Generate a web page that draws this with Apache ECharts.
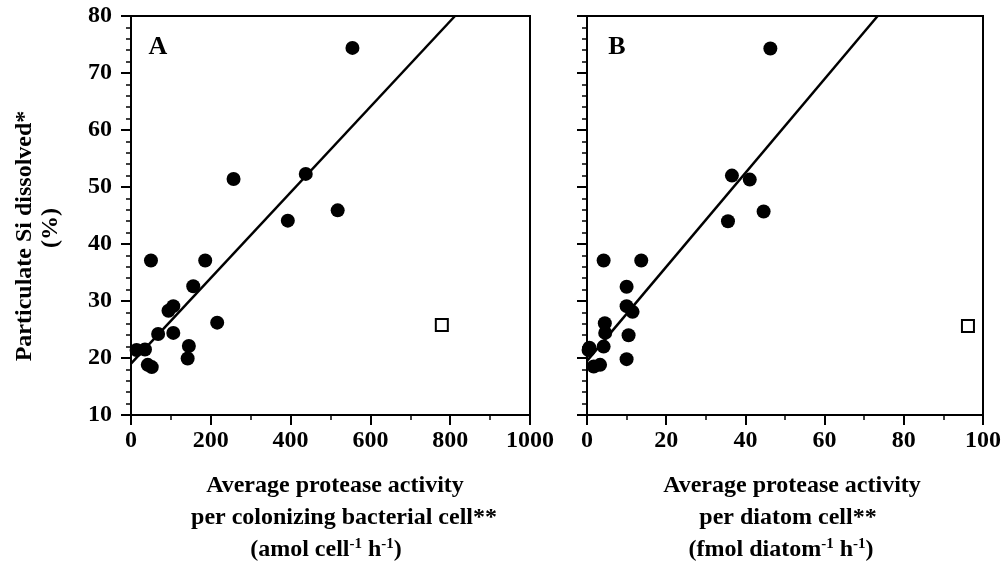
<!DOCTYPE html>
<html>
<head>
    <meta charset="utf-8" />
    <script src="https://cdn.jsdelivr.net/npm/echarts@6/dist/echarts.min.js"></script>
    <style type="text/css">
        body, html {width: 100%;height: 100%;margin:0;background:#fff;}
        #chart{width:1004px;height:561px;}
    </style>
    <title>Protease activity vs Si dissolved</title>
</head>
<body>
<div id="chart"></div>
<script type="text/javascript">
    // panel A: per colonizing bacterial cell (amol cell-1 h-1)
    var pointsAx = [555, 257, 438, 393, 518, 50, 186, 156, 106, 94, 216, 68, 106, 145, 142, 14, 35, 42, 52];
    var pointsAy = [74.4, 51.4, 52.3, 44.1, 45.9, 37.1, 37.1, 32.6, 29.1, 28.3, 26.2, 24.2, 24.4, 22.1, 19.9, 21.4, 21.5, 18.8, 18.4];
    var outlierAx = [779];
    var outlierAy = [25.8];
    var fitAx = [0, 812];
    var fitAy = [19.0, 80];

    // panel B: per diatom cell (fmol diatom-1 h-1)
    var pointsBx = [46.3, 36.6, 41.1, 35.6, 44.6, 4.2, 13.7, 10.0, 10.0, 11.5, 4.5, 4.6, 10.5, 4.2, 10.0, 0.4, 0.6, 1.7, 3.3];
    var pointsBy = [74.3, 52.0, 51.3, 44.0, 45.7, 37.1, 37.1, 32.5, 29.1, 28.1, 26.1, 24.4, 24.0, 22.0, 19.8, 21.4, 21.8, 18.5, 18.8];
    var outlierBx = [96.2];
    var outlierBy = [25.6];
    var fitBx = [0, 73.4];
    var fitBy = [19.5, 80];

    var yTicks = [10, 80, 10];   // min, max, interval

    function pairs(xs, ys) {
        return xs.map(function (x, i) { return [x, ys[i]]; });
    }

    var font = 'Liberation Serif';
    var black = '#000';

    function xAxisOpt(gi, max, interval) {
        return {
            type: 'value', gridIndex: gi, min: 0, max: max, interval: interval,
            axisLine: {lineStyle: {color: black, width: 2}},
            axisTick: {length: 10, lineStyle: {color: black, width: 2}},
            minorTick: {show: true, splitNumber: 2, length: 5, lineStyle: {color: black, width: 1.5}},
            splitLine: {show: false},
            axisLabel: {color: black, fontFamily: font, fontWeight: 'bold', fontSize: 24, margin: 14,
                formatter: function (v) { return String(v); }}
        };
    }

    function yAxisOpt(gi, showLabel) {
        return {
            type: 'value', gridIndex: gi, min: yTicks[0], max: yTicks[1], interval: yTicks[2],
            axisLine: {lineStyle: {color: black, width: 2}},
            axisTick: {length: 10, lineStyle: {color: black, width: 2}},
            minorTick: {show: true, splitNumber: 5, length: 5, lineStyle: {color: black, width: 1.5}},
            splitLine: {show: false},
            axisLabel: {show: showLabel, color: black, fontFamily: font, fontWeight: 'bold', fontSize: 24, margin: 19}
        };
    }

    function filled(xi, data) {
        return {type: 'scatter', xAxisIndex: xi, yAxisIndex: xi, data: data, symbol: 'circle', symbolSize: 14,
            itemStyle: {color: black, opacity: 1}, z: 3};
    }
    function open(xi, data) {
        return {type: 'scatter', xAxisIndex: xi, yAxisIndex: xi, data: data, symbol: 'rect', symbolSize: 12,
            itemStyle: {color: '#fff', borderColor: black, borderWidth: 2, opacity: 1}, z: 3};
    }
    function fit(xi, data) {
        return {type: 'line', xAxisIndex: xi, yAxisIndex: xi, data: data, symbol: 'none',
            lineStyle: {color: black, width: 2.5}, clip: true, z: 2};
    }

    var rich = {
        n: {fontFamily: font, fontWeight: 'bold', fontSize: 24, lineHeight: 28, color: black},
        s: {fontFamily: font, fontWeight: 'bold', fontSize: 15, lineHeight: 28, verticalAlign: 'top', padding: [1, 0, 0, 0], color: black}
    };

    function label(x, y, text) {
        return {type: 'text', x: x, y: y,
            style: {text: text, rich: rich, align: 'center', verticalAlign: 'middle'}};
    }

    var chart = echarts.init(document.getElementById('chart'));
    var option = {
        backgroundColor: '#fff',
        animation: false,
        grid: [
            {left: 131, top: 16, width: 399, height: 399, show: true, borderColor: black, borderWidth: 2},
            {left: 587, top: 16, width: 398, height: 399, show: true, borderColor: black, borderWidth: 2}
        ],
        xAxis: [xAxisOpt(0, 1000, 200), xAxisOpt(1, 100, 20)],
        yAxis: [yAxisOpt(0, true), yAxisOpt(1, false)],
        series: [
            fit(0, pairs(fitAx, fitAy)),
            filled(0, pairs(pointsAx, pointsAy)),
            open(0, pairs(outlierAx, outlierAy)),
            fit(1, pairs(fitBx, fitBy)),
            filled(1, pairs(pointsBx, pointsBy)),
            open(1, pairs(outlierBx, outlierBy))
        ],
        graphic: [
            {type: 'text', x: 158, y: 47, style: {text: 'A', font: 'bold 26px "Liberation Serif"', fill: black, align: 'center', verticalAlign: 'middle'}},
            {type: 'text', x: 617, y: 47, style: {text: 'B', font: 'bold 26px "Liberation Serif"', fill: black, align: 'center', verticalAlign: 'middle'}},
            {type: 'text', x: 25, y: 236, rotation: Math.PI / 2,
                style: {text: 'Particulate Si dissolved*', font: 'bold 24px "Liberation Serif"', fill: black, align: 'center', verticalAlign: 'middle'}},
            {type: 'text', x: 51, y: 228, rotation: Math.PI / 2,
                style: {text: '(%)', font: 'bold 24px "Liberation Serif"', fill: black, align: 'center', verticalAlign: 'middle'}},
            label(335, 486, '{n|Average protease activity}'),
            label(344, 518, '{n|per colonizing bacterial cell**}'),
            label(326, 550, '{n|(amol cell}{s|-1}{n| h}{s|-1}{n|)}'),
            label(792, 486, '{n|Average protease activity}'),
            label(788, 518, '{n|per diatom cell**}'),
            label(781, 550, '{n|(fmol diatom}{s|-1}{n| h}{s|-1}{n|)}')
        ]
    };
    chart.setOption(option);
</script>
</body>
</html>
